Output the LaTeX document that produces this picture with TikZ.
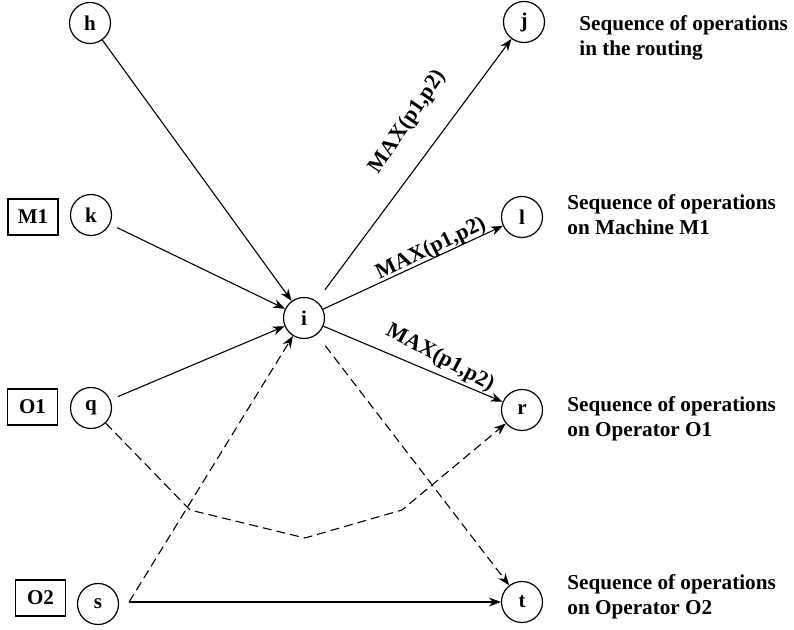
\documentclass[tikz,border=0pt]{standalone}
\usepackage{fontspec}
\setmainfont{Liberation Serif}
\usetikzlibrary{arrows.meta}
\begin{document}
\begin{tikzpicture}[x=0.5pt,y=-0.5pt,
  op/.style={circle,draw,line width=0.6pt,minimum size=20.5pt,inner sep=0pt,
    font=\bfseries\fontsize{10.5}{12}\selectfont},
  res/.style={draw,line width=0.6pt,minimum width=25pt,minimum height=18pt,inner sep=0pt,
    font=\bfseries\fontsize{10.5}{12}\selectfont},
  desc/.style={anchor=base west,align=left,inner sep=0pt,
    font=\bfseries\fontsize{10.6}{12.5}\selectfont},
  lbl/.style={inner sep=0pt,font=\bfseries\fontsize{11}{12}\selectfont},
  arc/.style={line width=0.55pt,-{Stealth[length=6pt,width=4.5pt]}},
  dsh/.style={arc,dash pattern=on 4.5pt off 2.5pt}]
\useasboundingbox (0,0) rectangle (794,630);

% operations
\node[op] (h) at (90,23) {h};
\node[op] (j) at (524,22) {j};
\node[op] (k) at (91,215) {k};
\node[op] (l) at (522,217) {l};
\node[op] (i) at (304,318) {i};
\node[op] (q) at (91,408) {q};
\node[op] (r) at (522,410) {r};
\node[op] (s) at (98,604) {s};
\node[op] (t) at (522,602) {t};

% resources
\node[res] (m1) at (33,217) {M1};
\node[res] (o1) at (32.5,407) {O1};
\node[res] (o2) at (40.5,598) {O2};

% sequence descriptions (anchored on the last line's baseline)
\node[desc] (d1) at (579,56) {Sequence of operations\\in the routing};
\node[desc] (d2) at (567,235) {Sequence of operations\\on Machine M1};
\node[desc] (d3) at (567,437) {Sequence of operations\\on Operator O1};
\node[desc] (d4) at (567,615) {Sequence of operations\\on Operator O2};

% routing and machine arcs
\draw[arc] (h) -- (i);
\draw[arc,shorten <=4pt] (k) -- (i);
\draw[arc,shorten <=4pt] (q) -- (i);
\draw[arc,shorten <=7pt] (i) -- (j);
\draw[arc] (i) -- (l);
\draw[arc] (i) -- (r);
\coordinate (s0) at ([xshift=5pt,yshift=1pt]s.east);
\draw[arc] (s0) -- (t);

% operator arcs
\draw[dsh] (s0) -- (i);
\draw[dsh,shorten <=7pt] (i) -- (t);
\coordinate (b1) at (190,510);
\coordinate (b2) at (305,538);
\coordinate (b3) at (402,510);
\draw[dsh] (q) -- (b1) -- (b2) -- (b3) -- (r);

% arc weights
\node[lbl,rotate=55.7] (w1) at (408,122) {MAX(p1,p2)};
\node[lbl,rotate=25.7] (w2) at (431,249) {MAX(p1,p2)};
\node[lbl,rotate=-28] (w3) at (440,358) {MAX(p1,p2)};
\end{tikzpicture}
\end{document}
